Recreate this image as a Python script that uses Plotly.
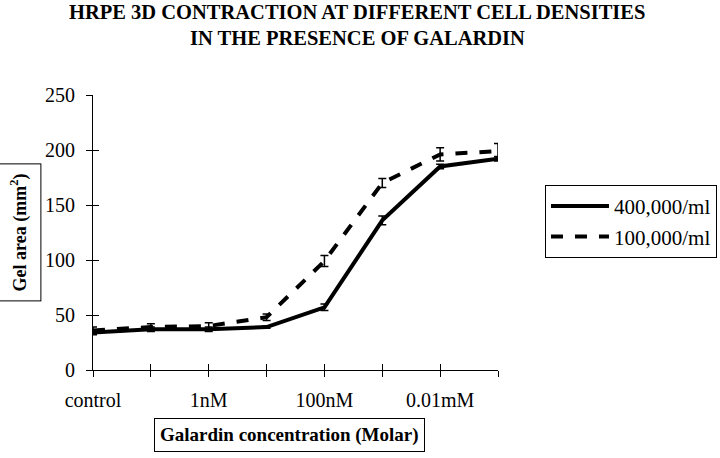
import plotly.graph_objects as go

categories = ["control", "0.1nM", "1nM", "10nM", "100nM", "1µM", "0.01mM", "0.1mM"]
label_positions = [0, 2, 4, 6]
tick_labels = ["control", "1nM", "100nM", "0.01mM"]
solid_400k = [34, 37, 37, 39, 57, 136, 185, 192]
err_400k = [2, 2, 2, 1, 3, 4, 2, 2]
dashed_100k = [36, 39, 40, 48, 99, 170, 196, 199]
err_100k = [3, 3, 3, 3, 5, 4, 6, 7]
title_lines = ["HRPE 3D CONTRACTION AT DIFFERENT CELL DENSITIES",
               "IN THE PRESENCE OF GALARDIN"]

xs = list(range(len(categories)))
font = "Liberation Serif"

fig = go.Figure()
fig.add_trace(go.Scatter(
    x=xs, y=solid_400k, mode="lines", name="400,000/ml",
    line=dict(color="black", width=4),
    error_y=dict(type="data", array=err_400k, color="black", thickness=1.5, width=4),
))
fig.add_trace(go.Scatter(
    x=xs, y=dashed_100k, mode="lines", name="100,000/ml",
    line=dict(color="black", width=4, dash="dash"),
    error_y=dict(type="data", array=err_100k, color="black", thickness=1.5, width=4),
))
fig.add_trace(go.Scatter(x=[None], y=[None], xaxis="x2", yaxis="y2",
                         showlegend=False, hoverinfo="skip"))
fig.add_trace(go.Scatter(x=[None], y=[None], xaxis="x3", yaxis="y",
                         showlegend=False, hoverinfo="skip"))

fig.update_layout(
    width=720, height=458,
    margin=dict(l=93, r=222, t=95, b=88, autoexpand=False),
    paper_bgcolor="white", plot_bgcolor="white",
    font=dict(family=font, size=19, color="black"),
    xaxis=dict(
        range=[0, 7], tickmode="array", tickvals=xs,
        showticklabels=False,
        showgrid=False, zeroline=False, showline=True, linecolor="black", linewidth=1,
        ticks="outside", ticklen=6, tickcolor="black", tickwidth=1,
        automargin=False,
    ),
    xaxis2=dict(
        range=[0, 7], overlaying="x", tickmode="array", tickvals=xs,
        showticklabels=False, showgrid=False, zeroline=False,
        ticks="inside", ticklen=6, tickcolor="black", tickwidth=1, side="bottom",
        automargin=False,
    ),
    xaxis3=dict(
        range=[0, 7], overlaying="x", tickmode="array",
        tickvals=label_positions, ticktext=tick_labels,
        showgrid=False, zeroline=False, showline=False, ticks="",
        ticklabelstandoff=16, side="bottom",
        tickfont=dict(family=font, size=20), automargin=False,
    ),
    yaxis=dict(
        range=[0, 250], tickvals=[0, 50, 100, 150, 200, 250],
        showgrid=False, zeroline=False, showline=True, linecolor="black", linewidth=1,
        ticks="outside", ticklen=6, tickcolor="black", tickwidth=1,
        ticklabelstandoff=7,
        tickfont=dict(family=font, size=20), automargin=False,
    ),
    yaxis2=dict(
        range=[0, 250], overlaying="y", tickvals=[0, 50, 100, 150, 200, 250],
        showticklabels=False, showgrid=False, zeroline=False,
        ticks="inside", ticklen=6, tickcolor="black", tickwidth=1, side="left",
        automargin=False,
    ),
    legend=dict(
        x=1.116, y=0.673, xanchor="left", yanchor="top",
        bordercolor="black", borderwidth=1, bgcolor="white",
        font=dict(family=font, size=21),
        itemwidth=58,
        tracegroupgap=0,
    ),
    showlegend=True,
)

fig.add_annotation(
    text="<b>" + title_lines[0] + "</b>",
    xref="paper", yref="paper", x=0.652, y=1.30, xanchor="center", yanchor="middle",
    showarrow=False, font=dict(family=font, size=20.5, color="black"),
)
fig.add_annotation(
    text="<b>" + title_lines[1] + "</b>",
    xref="paper", yref="paper", x=0.652, y=1.208, xanchor="center", yanchor="middle",
    showarrow=False, font=dict(family=font, size=20.5, color="black"),
)
fig.add_annotation(
    text="<b>Gel area (mm<sup>2</sup>)</b>", textangle=-90,
    xref="paper", yref="paper", x=-0.183, y=0.50, xanchor="center", yanchor="middle",
    showarrow=False, bordercolor="black", borderwidth=1, borderpad=9,
    font=dict(family=font, size=18, color="black"),
)
fig.add_annotation(
    text="<b>Galardin concentration (Molar)</b>",
    xref="paper", yref="paper", x=0.486, y=-0.236, xanchor="center", yanchor="middle",
    showarrow=False, bordercolor="black", borderwidth=1, borderpad=5,
    font=dict(family=font, size=19, color="black"),
)

fig.write_html("out.html",
               config={"displayModeBar": False},
               post_script="document.body.style.margin='0';document.body.style.overflow='hidden';")
